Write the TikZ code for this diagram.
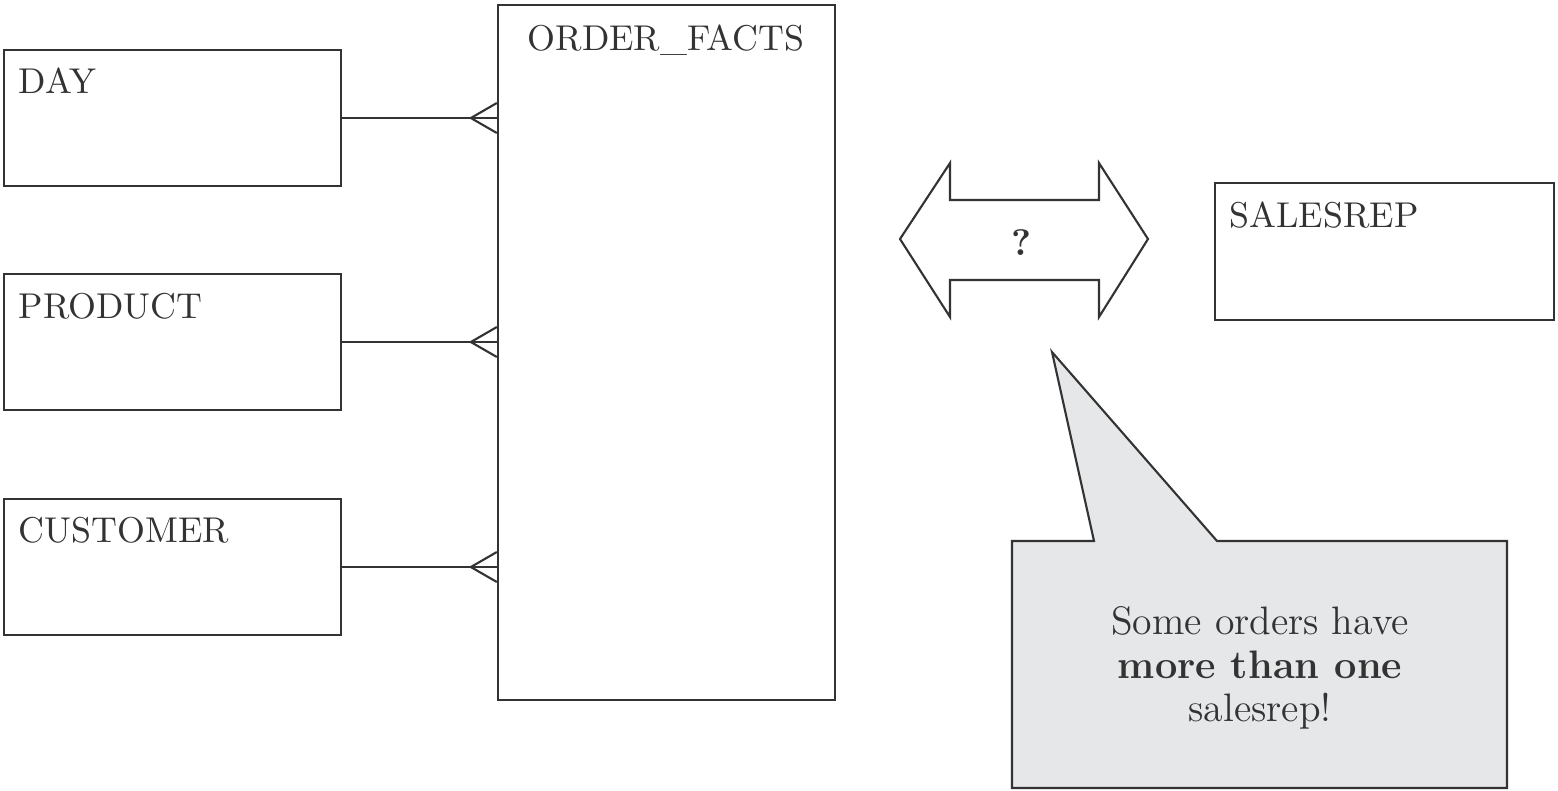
\documentclass[tikz,border=0pt]{standalone}
\usetikzlibrary{calc}
\definecolor{ink}{HTML}{333333}
\definecolor{callgray}{HTML}{E6E7E8}
\begin{document}
\begin{tikzpicture}[x=0.01cm,y=-0.01cm,
  ent/.style={draw=ink,line width=0.6pt,rectangle,inner sep=0pt},
  lbl/.style={anchor=base west,inner sep=0pt,text=ink,font=\fontsize{10.2}{12}\selectfont},
  link/.style={draw=ink,line width=0.6pt},
  outl/.style={draw=ink,line width=0.6pt,line join=miter}]
\useasboundingbox (0,0) rectangle (1558,790);
% entities
\node[ent,minimum width=3.37cm,minimum height=1.36cm] (day) at (172.5,118) {};
\node[ent,minimum width=3.37cm,minimum height=1.36cm] (prod) at (172.5,342) {};
\node[ent,minimum width=3.37cm,minimum height=1.36cm] (cust) at (172.5,567) {};
\node[ent,minimum width=3.37cm,minimum height=6.95cm] (of) at (666.5,352.5) {};
\node[ent,minimum width=3.39cm,minimum height=1.37cm] (rep) at (1384.5,251.5) {};
% labels
\node[lbl] (tday) at (18,93) {DAY};
\node[lbl] (tprod) at (18,318) {PRODUCT};
\node[lbl] (tcust) at (18,542) {CUSTOMER};
\node[lbl] (tof) at (527,50) {ORDER\_FACTS};
\node[lbl] (trep) at (1229,227) {SALESREP};
% connectors with crow's feet
\foreach \e in {day,prod,cust}{
  \coordinate (p\e) at (of.west |- \e.east);
  \draw[link] (\e.east) -- (p\e);
  \draw[link] ($(p\e)+(0,-15)$) -- ($(p\e)+(-26,0)$) -- ($(p\e)+(0,15)$);
}
% double arrow
\draw[outl] (900,239) -- (950,163) -- (950,200) -- (1099,200) -- (1099,163)
  -- (1148,239) -- (1099,317) -- (1099,280) -- (950,280) -- (950,317) -- cycle;
\node[inner sep=0pt,text=ink,font=\bfseries\fontsize{10.5}{12}\selectfont] (q) at (1022,243) {?};
% callout
\draw[outl,fill=callgray] (1012,541) -- (1094,541) -- (1052,352) -- (1217,541)
  -- (1507,541) -- (1507,788) -- (1012,788) -- cycle;
\node[align=center,inner sep=0pt,text=ink,font=\fontsize{11.3}{12.3}\selectfont] (note) at (1260,668)
  {Some orders have\\ \textbf{more than one}\\ salesrep!};
\end{tikzpicture}
\end{document}
